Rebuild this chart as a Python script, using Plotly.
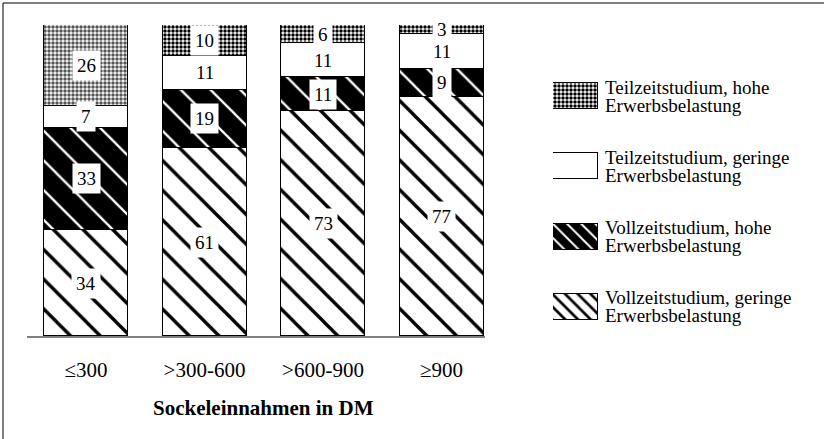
import plotly.graph_objects as go

# ---------------- data ----------------
categories = ["≤300", ">300-600", ">600-900", "≥900"]
voll_gering = [34, 61, 73, 77]   # Vollzeitstudium, geringe Erwerbsbelastung
voll_hoch = [33, 19, 11, 9]      # Vollzeitstudium, hohe Erwerbsbelastung
teil_gering = [7, 11, 11, 11]    # Teilzeitstudium, geringe Erwerbsbelastung
teil_hoch = [26, 10, 6, 3]       # Teilzeitstudium, hohe Erwerbsbelastung
series_values = [voll_gering, voll_hoch, teil_gering, teil_hoch]
series_lines = [
    ("Vollzeitstudium, geringe", "Erwerbsbelastung"),
    ("Vollzeitstudium, hohe", "Erwerbsbelastung"),
    ("Teilzeitstudium, geringe", "Erwerbsbelastung"),
    ("Teilzeitstudium, hohe", "Erwerbsbelastung"),
]
x_title = "Sockeleinnahmen in DM"

# ---------------- styles ----------------
W, H = 824, 439
SERIF = "Liberation Serif, Times New Roman, serif"
bar_styles = [
    dict(color="white", pattern=dict(shape="\\", fgcolor="black", bgcolor="white", fgopacity=1,
                                     size=21, solidity=0.16)),
    dict(color="black", pattern=dict(shape="\\", fgcolor="white", bgcolor="black", fgopacity=1,
                                     size=21, solidity=0.11)),
    dict(color="white", pattern=dict(shape="", fgcolor="black", bgcolor="white")),
    dict(color="white", pattern=dict(shape=".", fgcolor=["#555555", "black", "black", "black"],
                                     bgcolor="white", fgopacity=1, size=4, solidity=0.6)),
]
legend_styles = [
    dict(color="white", pattern=dict(shape="\\", fgcolor="black", bgcolor="white", fgopacity=1,
                                     size=9, solidity=0.3)),
    dict(color="black", pattern=dict(shape="\\", fgcolor="white", bgcolor="black", fgopacity=1,
                                     size=10, solidity=0.2)),
    dict(color="white", pattern=dict(shape="", fgcolor="black", bgcolor="white")),
    dict(color="white", pattern=dict(shape=".", fgcolor="black", bgcolor="white", fgopacity=1,
                                     size=4, solidity=0.6)),
]


def px_x(p):
    return p / W


def px_y(p):
    return 1 - p / H


fig = go.Figure()
xpos = list(range(len(categories)))

for vals, st, lines in zip(series_values, bar_styles, series_lines):
    fig.add_trace(go.Bar(
        x=xpos, y=vals, name=" ".join(lines), width=0.709,
        marker=dict(color=st["color"], pattern=st["pattern"],
                    line=dict(color="black", width=1)),
        showlegend=False, hoverinfo="skip",
    ))

# segment labels
totals = [sum(v[i] for v in series_values) for i in range(len(categories))]
annotations = []
for i in range(len(categories)):
    cum = 0
    for vals in series_values:
        v = vals[i]
        mid = (cum + v / 2) / totals[i] * 100
        cum += v
        annotations.append(dict(
            x=i, y=mid, xref="x", yref="y", text=str(v), showarrow=False,
            font=dict(family=SERIF, size=19, color="black"),
            bgcolor="white", borderpad=4,
        ))

# legend swatches (separate axes)
legend_order = [3, 2, 1, 0]
for row, k in enumerate(legend_order):
    st = legend_styles[k]
    fig.add_trace(go.Bar(
        x=[1], y=[row], orientation="h", width=0.37,
        xaxis="x2", yaxis="y2",
        marker=dict(color=st["color"], pattern=st["pattern"],
                    line=dict(color="black", width=1)),
        showlegend=False, hoverinfo="skip",
    ))
    l1, l2 = series_lines[k]
    for txt, shift in ((l1, 9), (l2, -9)):
        annotations.append(dict(
            x=px_x(603), y=row, xref="paper", yref="y2", text=txt,
            xanchor="left", yanchor="middle", yshift=shift, showarrow=False,
            font=dict(family=SERIF, size=19, color="black"),
        ))

annotations.append(dict(
    x=px_x(263), y=px_y(408), xref="paper", yref="paper",
    text="<b>" + x_title + "</b>", showarrow=False,
    xanchor="center", yanchor="middle",
    font=dict(family=SERIF, size=21, color="black"),
))

# legend axis range so rows sit at 96 + 70.3*i px
top_px, bot_px = 40, 336
c0, step = 96, 70.3
y2_range = [(bot_px - c0) / step, (top_px - c0) / step]

fig.update_layout(
    width=W, height=H,
    margin=dict(l=0, r=0, t=0, b=0),
    paper_bgcolor="white", plot_bgcolor="white",
    barmode="stack", barnorm="percent",
    bargap=0,
    xaxis=dict(
        domain=[px_x(27), px_x(485)], range=[-0.498, 3.367],
        tickmode="array", tickvals=xpos, ticktext=categories,
        showline=True, linecolor="#808080", linewidth=2,
        ticks="outside", ticklen=14, tickcolor="rgba(0,0,0,0)",
        tickfont=dict(family=SERIF, size=21, color="black"),
        showgrid=False, zeroline=False, fixedrange=True,
    ),
    yaxis=dict(
        domain=[px_y(336), px_y(25)], range=[0, 100],
        visible=False, fixedrange=True,
    ),
    xaxis2=dict(domain=[px_x(553), px_x(598)], range=[0, 100],
                visible=False, anchor="y2", fixedrange=True),
    yaxis2=dict(domain=[px_y(bot_px), px_y(top_px)], range=y2_range,
                visible=False, anchor="x2", fixedrange=True),
    annotations=annotations,
    shapes=[
        dict(type="line", xref="paper", yref="paper",
             x0=px_x(3), x1=1, y0=px_y(3), y1=px_y(3),
             line=dict(color="black", width=1)),
        dict(type="line", xref="paper", yref="paper",
             x0=px_x(3), x1=px_x(3), y0=px_y(3), y1=0,
             line=dict(color="black", width=1)),
    ],
)

fig.write_html("out.html", config={"displayModeBar": False},
               post_script="document.body.style.margin='0px';")
